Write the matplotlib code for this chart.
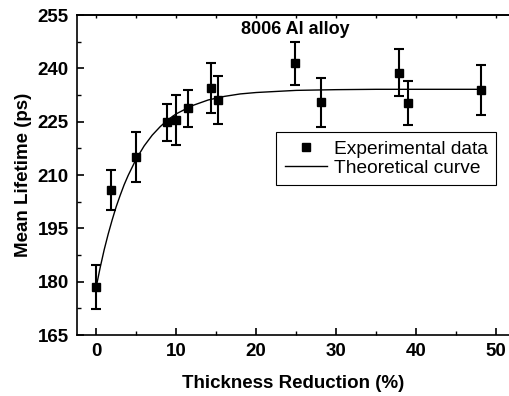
import matplotlib
matplotlib.use("Agg")
import matplotlib.pyplot as plt
from matplotlib.ticker import MultipleLocator
from matplotlib.lines import Line2D

plt.rcParams['font.family'] = ['Liberation Sans', 'DejaVu Sans']

thickness = [0.0, 1.8, 5.0, 8.8, 10.0, 11.5, 14.3, 15.25, 24.8, 28.1, 37.9, 39.0, 48.1]
lifetime = [178.5, 205.8, 215.0, 224.9, 225.5, 228.8, 234.4, 231.1, 241.4, 230.4, 238.8, 230.2, 233.9]
errors = [6.2, 5.6, 7.0, 5.2, 7.0, 5.2, 7.0, 6.8, 6.0, 7.0, 6.5, 6.2, 7.0]

# Theoretical curve
curve_x = [0, 0.5, 1, 1.5, 2, 2.5, 3, 3.5, 4, 5, 6, 7, 8, 9, 10, 12, 14, 16, 18, 20,
           25, 30, 35, 40, 48.1]
curve_y = [178.5, 184.0, 189.0, 193.4, 197.4, 201.1, 204.3, 207.3, 209.9, 214.5, 218.2,
           221.2, 223.6, 225.6, 227.2, 229.5, 231.1, 232.1, 232.8, 233.2, 233.8, 234.0,
           234.1, 234.1, 234.1]

fig = plt.figure(figsize=(5.09, 3.96), dpi=100)
ax = fig.add_axes([77/509, 1-335/396, 432/509, 320/396])

ax.plot(curve_x, curve_y, color='black', lw=1.0, zorder=2)
ax.errorbar(thickness, lifetime, yerr=errors, fmt='s', color='black', ms=6,
            elinewidth=1.5, capsize=3.5, capthick=1.5, zorder=3)

ax.set_xlim(-2.4, 51.6)
ax.set_ylim(165, 255)
ax.xaxis.set_major_locator(MultipleLocator(10))
ax.xaxis.set_minor_locator(MultipleLocator(5))
ax.yaxis.set_major_locator(MultipleLocator(15))
ax.yaxis.set_minor_locator(MultipleLocator(7.5))

ax.spines['right'].set_visible(False)
for s in ['left', 'bottom', 'top']:
    ax.spines[s].set_linewidth(1.2)

ax.tick_params(which='major', direction='in', length=5, width=1.2, labelsize=13.5, pad=6)
ax.tick_params(which='minor', direction='in', length=3, width=1.0)
for lab in ax.get_xticklabels() + ax.get_yticklabels():
    lab.set_fontweight('bold')

top = ax.secondary_xaxis('top')
top.xaxis.set_major_locator(MultipleLocator(5))
top.tick_params(direction='in', length=2.5, width=1.0, labeltop=False)
top.spines['top'].set_linewidth(1.2)

ax.set_xlabel('Thickness Reduction (%)', fontsize=13.5, fontweight='bold')
ax.set_ylabel('Mean Lifetime (ps)', fontsize=13.5, fontweight='bold')
ax.xaxis.set_label_coords(0.5, -0.125)
ax.yaxis.set_label_coords(-0.105, 0.5)

ax.text(0.505, 0.956, '8006 Al alloy', transform=ax.transAxes, ha='center', va='center',
        fontsize=13, fontweight='bold')

h_exp = Line2D([], [], marker='s', color='black', ls='none', ms=6)
h_th = Line2D([], [], color='black', lw=1.0)
leg = ax.legend([h_exp, h_th], ['Experimental data', 'Theoretical curve'],
                loc='upper right', bbox_to_anchor=(0.97, 0.634), fontsize=13.8,
                frameon=True, fancybox=False, edgecolor='black', framealpha=1,
                handlelength=2.2, handletextpad=0.35, borderpad=0.45, labelspacing=0.05,
                borderaxespad=0)
leg.get_frame().set_linewidth(0.8)

fig.savefig('out.png', dpi=100)
